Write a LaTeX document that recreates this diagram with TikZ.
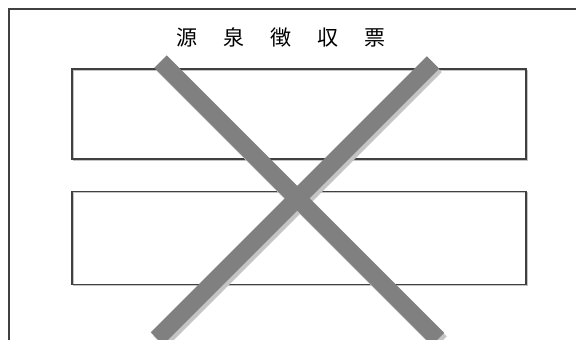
\documentclass[tikz,border=0pt]{standalone}
\usepackage{fontspec}
\newfontfamily\cjk{Noto Sans CJK JP}
\definecolor{framec}{HTML}{404040}
\definecolor{barc}{HTML}{808080}
\definecolor{shadowc}{HTML}{C4C4C4}
\tikzset{
  formbox/.style={draw=framec, line width=1.5pt, minimum width=454pt, minimum height=90pt, inner sep=0pt},
  bar/.style={draw=barc, line width=17.5pt, line cap=butt},
  barshadow/.style={draw=shadowc, line width=17.5pt, line cap=butt},
}
\begin{document}
\begin{tikzpicture}[x=1pt,y=-1pt]
\useasboundingbox (0,0) rectangle (576,340);
\clip (0,0) rectangle (576,340);
\fill[white] (0,0) rectangle (576,340);
% outer frame (open to the right and bottom)
\coordinate (fa) at (8.5,350);
\coordinate (fb) at (8.5,9);
\coordinate (fc) at (590,9);
\draw[framec, line width=2pt] (fa) -- (fb) -- (fc);
% title
\node[font=\cjk\fontsize{21pt}{21pt}\selectfont, text=black, inner sep=0pt] (title) at (281,37)
  {源\hspace{26pt}泉\hspace{26pt}徴\hspace{26pt}収\hspace{26pt}票};
% boxes (light edge shadow then box)
\draw[shadowc, line width=1.5pt] (73.5,70.5) rectangle (527.5,160.5);
\draw[shadowc, line width=1.5pt] (73.5,192.5) rectangle (527.5,285.5);
\node[formbox, minimum height=90pt] (r1) at (299,114) {};
\node[formbox, minimum height=93pt] (r2) at (299,238) {};
% cross
\coordinate (a1) at (160.5,61.5);
\coordinate (a2) at (438,339);
\coordinate (b1) at (433,62.5);
\coordinate (b2) at (157,338.5);
\coordinate (sa1) at (163,65);
\coordinate (sa2) at (440.5,342.5);
\coordinate (sb1) at (435.5,66);
\coordinate (sb2) at (159.5,342);
\draw[barshadow] (sa1) -- (sa2);
\draw[barshadow] (sb1) -- (sb2);
\draw[bar] (a1) -- (a2);
\draw[bar] (b1) -- (b2);
\end{tikzpicture}
\end{document}
